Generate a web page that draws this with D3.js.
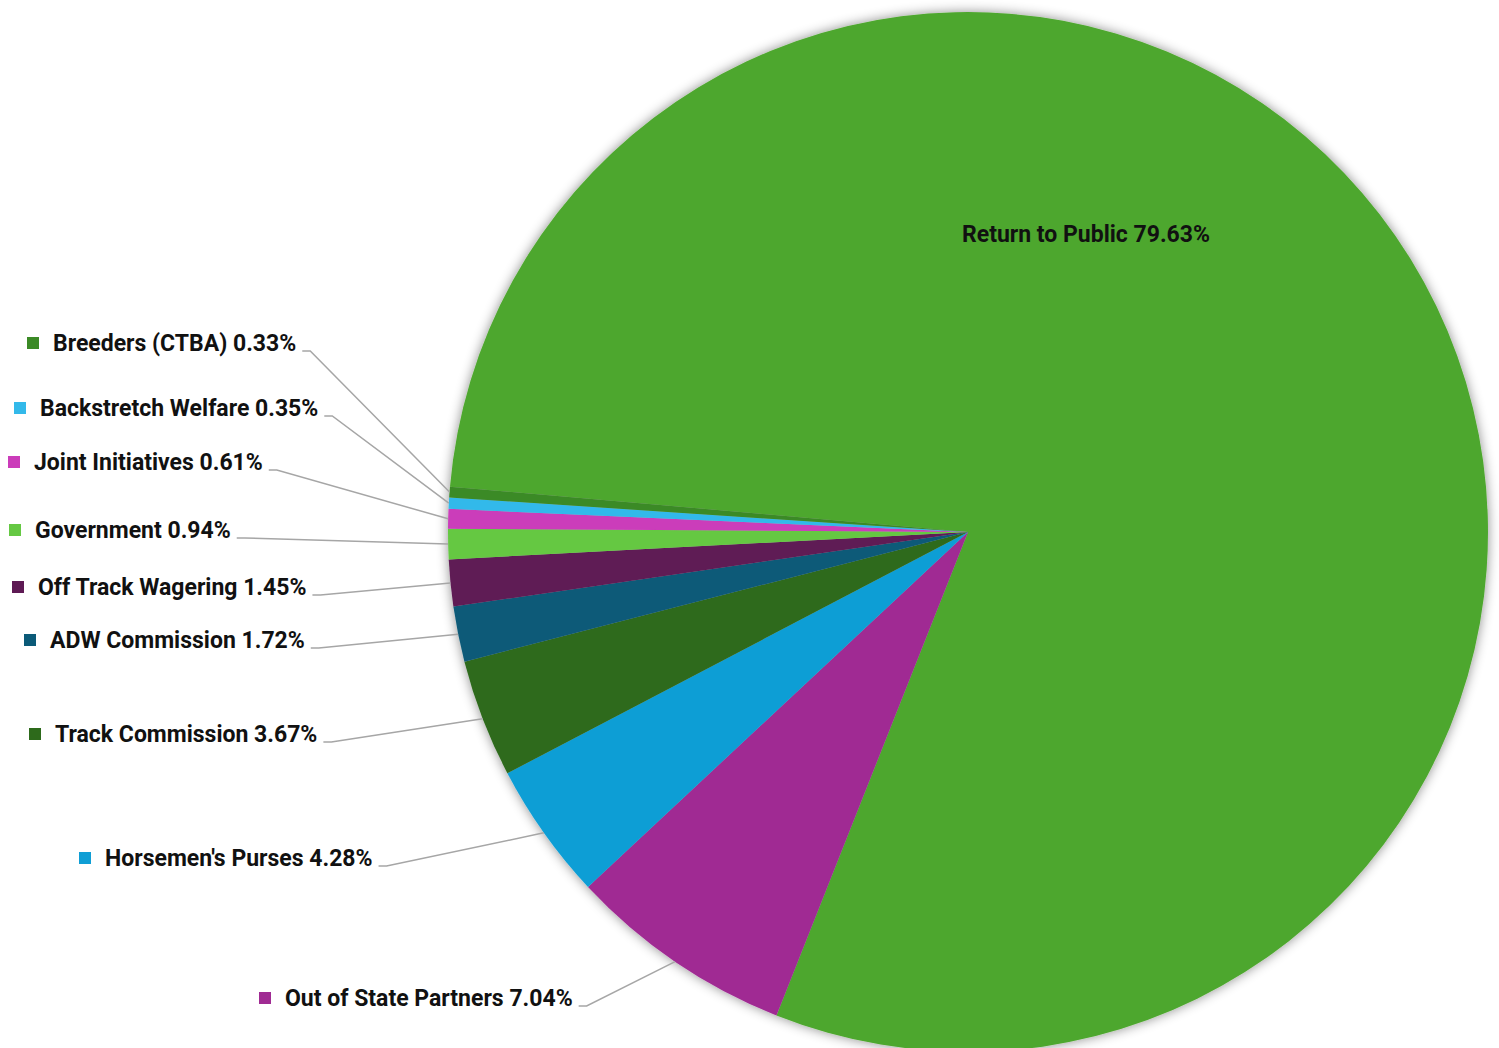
<!DOCTYPE html>
<html>
<head>
<meta charset="utf-8">
<script src="https://cdn.jsdelivr.net/npm/d3@7"></script>
<style>
  html, body { margin: 0; padding: 0; background: #fff; }
  svg text { font-family: Roboto, "Noto Sans", sans-serif; font-weight: bold; fill: #111; }
</style>
</head>
<body>
<div id="chart"></div>
<script>
'use strict';

// data, in drawing order (clockwise from the big slice)
var categories = ['Return to Public', 'Out of State Partners', "Horsemen's Purses", 'Track Commission',
  'ADW Commission', 'Off Track Wagering', 'Government', 'Joint Initiatives', 'Backstretch Welfare', 'Breeders (CTBA)'];
var shares = [79.63, 7.04, 4.28, 3.67, 1.72, 1.45, 0.94, 0.61, 0.35, 0.33];
var colors = ['#4ea72e', '#a02b93', '#0f9ed5', '#2d6a1b', '#0b5a78', '#5e1a54', '#65c843', '#cb3cba', '#33b9ea', '#3b8a26'];

// where each label sits (marker left x, label middle y); first one is inside the pie
var labelSpots = [[962, 234], [259, 998], [79, 858], [29, 734], [24, 640], [12, 587], [9, 530], [8, 462], [14, 408], [27, 343]];

var width = 1499, height = 1048;
var cx = 968, cy = 532, radius = 520;

var svg = d3.select('#chart')
  .append('svg')
  .attr('width', width)
  .attr('height', height);

var defs = svg.append('defs');
var shadow = defs.append('filter')
  .attr('id', 'pieShadow')
  .attr('x', '-10%').attr('y', '-10%')
  .attr('width', '120%').attr('height', '120%');
shadow.append('feDropShadow')
  .attr('dx', 0).attr('dy', 0)
  .attr('stdDeviation', 6)
  .attr('flood-color', '#000')
  .attr('flood-opacity', 0.45);

var data = categories.map(function(c, i) {
  return { name: c, value: shares[i], color: colors[i], spot: labelSpots[i] };
});

var start = 275 * Math.PI / 180;
var pie = d3.pie()
  .sort(null)
  .value(function(d) { return d.value; })
  .startAngle(start)
  .endAngle(start + 2 * Math.PI);

var arc = d3.arc().innerRadius(0).outerRadius(radius);

var arcs = pie(data);

var g = svg.append('g')
  .attr('transform', 'translate(' + cx + ',' + cy + ')');

g.append('g')
  .attr('filter', 'url(#pieShadow)')
  .selectAll('path')
  .data(arcs)
  .enter()
  .append('path')
  .attr('d', arc)
  .attr('fill', function(d) { return d.data.color; });

// labels
var fontSize = 23;
var labels = svg.append('g');

arcs.forEach(function(a, i) {
  var d = a.data;
  var inside = i === 0;
  var mx = d.spot[0], my = d.spot[1];
  var tx = inside ? mx : mx + 26;

  if (!inside) {
    labels.append('rect')
      .attr('x', mx)
      .attr('y', my - 6)
      .attr('width', 12)
      .attr('height', 12)
      .attr('fill', d.color);
  }

  var t = labels.append('text')
    .attr('x', tx)
    .attr('y', my)
    .attr('dy', '0.35em')
    .style('font-size', fontSize + 'px')
    .text(d.name + ' ' + d.value.toFixed(2) + '%');

  if (!inside) {
    var tw = t.node().getComputedTextLength();
    var mid = (a.startAngle + a.endAngle) / 2;
    var ex = cx + radius * Math.sin(mid);
    var ey = cy - radius * Math.cos(mid);
    var sx = tx + tw + 6;
    var sy = my + 8;
    labels.append('polyline')
      .attr('points', [[sx, sy], [sx + 8, sy], [ex, ey]].map(function(p) { return p.join(','); }).join(' '))
      .attr('fill', 'none')
      .attr('stroke', '#a6a6a6')
      .attr('stroke-width', 1.5);
  }
});
</script>
</body>
</html>
